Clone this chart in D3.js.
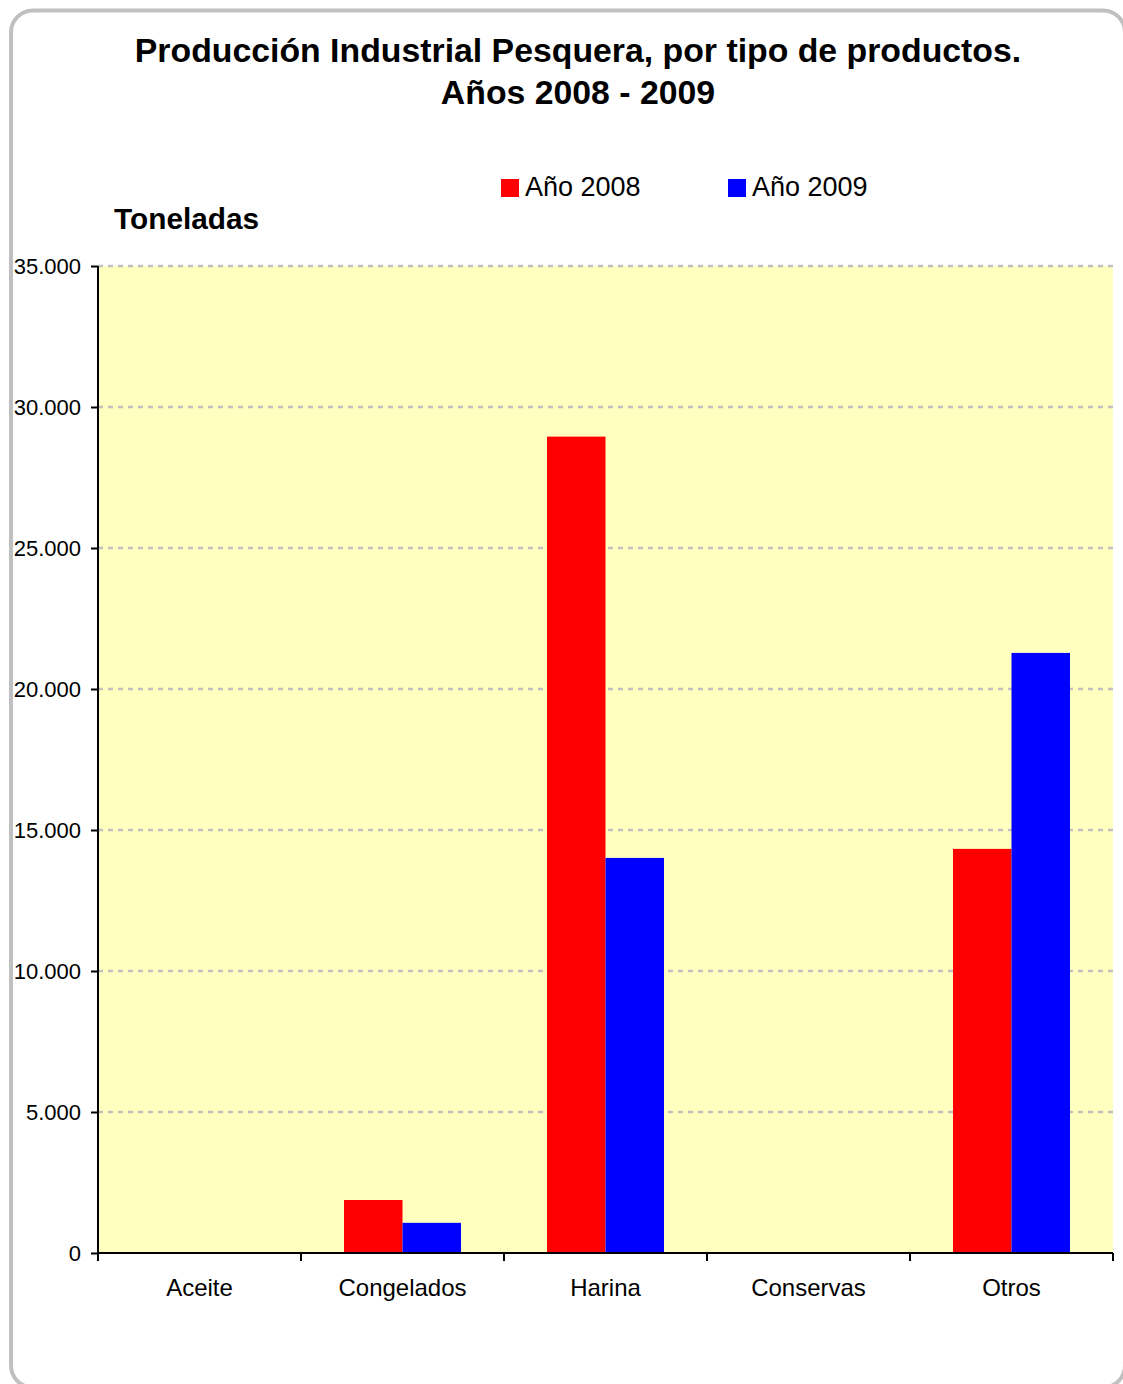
<!DOCTYPE html>
<html><head><meta charset="utf-8">
<script src="https://cdn.jsdelivr.net/npm/d3@7"></script>
<style>body{margin:0;background:#fff;} svg{display:block;}</style>
</head><body>
<script>
const categories = ["Aceite","Congelados","Harina","Conservas","Otros"];
const seriesNames = ["Año 2008","Año 2009"];
const values2008 = [0, 1880, 28950, 0, 14330];
const values2009 = [0, 1070, 14010, 0, 21280];
const yTicks = [0,5000,10000,15000,20000,25000,30000,35000];
const colors = ["#FF0000","#0000FF"];

const W=1123,H=1384;
const svg=d3.select("body").append("svg").attr("width",W).attr("height",H);
svg.append("rect").attr("x",11).attr("y",10.5).attr("width",1114).attr("height",1377)
  .attr("rx",22).attr("fill","#fff").attr("stroke","#c0c0c0").attr("stroke-width",4);

const m={l:98,r:1113,t:266,b:1253};
const x=d3.scaleBand().domain(categories).range([m.l,m.r]).paddingInner(0).paddingOuter(0);
const y=d3.scaleLinear().domain([0,35000]).range([m.b,m.t]);
const groupW=117;
const x1=d3.scaleBand().domain(seriesNames).range([0,groupW]);

svg.append("rect").attr("x",m.l).attr("y",m.t).attr("width",m.r-m.l).attr("height",m.b-m.t).attr("fill","#FFFFC0");

svg.append("g").selectAll("line").data(yTicks.filter(d=>d>0)).join("line")
  .attr("x1",m.l).attr("x2",m.r).attr("y1",d=>y(d)).attr("y2",d=>y(d))
  .attr("stroke","#c0c0c0").attr("stroke-width",2.5).attr("stroke-dasharray","5,5");

const data=categories.map((c,i)=>({c,v:[values2008[i],values2009[i]]}));
const g=svg.append("g");
data.forEach(d=>{
  d.v.forEach((v,j)=>{
    if(v<=0) return;
    g.append("rect").attr("x",x(d.c)+(x.bandwidth()-groupW)/2+x1(seriesNames[j]))
     .attr("width",x1.bandwidth()).attr("y",y(v)).attr("height",y(0)-y(v)).attr("fill",colors[j]);
  });
});

const fontN="'Liberation Sans', Arial, sans-serif";
const ya=svg.append("g").attr("transform",`translate(${m.l},0)`)
  .call(d3.axisLeft(y).tickValues(yTicks).tickSize(7).tickPadding(10)
    .tickFormat(d=>d3.format(",")(d).replace(/,/g,".")));
ya.selectAll("text").attr("font-family",fontN).attr("font-size",22).attr("fill","#000");
ya.selectAll("line").attr("stroke","#000").attr("stroke-width",2);
ya.select(".domain").attr("stroke","#000").attr("stroke-width",2).attr("d",`M0,${m.t}V${m.b}`);

const xa=svg.append("g").attr("transform",`translate(0,${m.b})`)
  .call(d3.axisBottom(x).tickSize(0).tickPadding(26));
xa.selectAll("text").attr("font-family",fontN).attr("font-size",24).attr("fill","#000");
xa.select(".domain").attr("stroke","#000").attr("stroke-width",2).attr("d",`M${m.l},0H${m.r}`);
xa.append("g").selectAll("line").data(d3.range(categories.length+1)).join("line")
  .attr("x1",i=>m.l+i*x.bandwidth()).attr("x2",i=>m.l+i*x.bandwidth()).attr("y1",0).attr("y2",8)
  .attr("stroke","#000").attr("stroke-width",2);

svg.append("text").attr("x",578).attr("y",62).attr("text-anchor","middle").attr("font-family",fontN)
  .attr("font-weight","bold").attr("font-size",33.8).text("Producción Industrial Pesquera, por tipo de productos.");
svg.append("text").attr("x",578).attr("y",104).attr("text-anchor","middle").attr("font-family",fontN)
  .attr("font-weight","bold").attr("font-size",33.8).text("Años 2008 - 2009");
svg.append("text").attr("x",114).attr("y",229).attr("font-family",fontN)
  .attr("font-weight","bold").attr("font-size",29.8).text("Toneladas");

const legX=[501,728];
seriesNames.forEach((s,i)=>{
  svg.append("rect").attr("x",legX[i]).attr("y",179).attr("width",18).attr("height",18).attr("fill",colors[i]);
  svg.append("text").attr("x",legX[i]+24).attr("y",196).attr("font-family",fontN).attr("font-size",27).text(s);
});
</script>
</body></html>
